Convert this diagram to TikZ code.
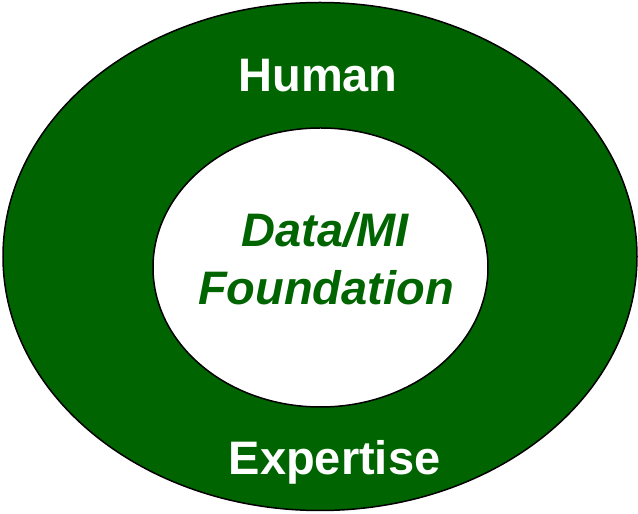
\documentclass[tikz,border=0pt]{standalone}
\usepackage{fontspec}
\setmainfont{Liberation Sans}
\definecolor{ringgreen}{RGB}{0,100,0}
\begin{document}
\begin{tikzpicture}[x=1pt,y=1pt,
  ring/.style={draw=black,line width=1.5pt},
  outerlbl/.style={text=white,font=\fontsize{47}{56}\selectfont\bfseries,anchor=base,inner sep=0pt},
  innerlbl/.style={text=ringgreen,font=\fontsize{47}{56}\selectfont\bfseries\itshape,anchor=base,inner sep=0pt}]
\useasboundingbox (0,0) rectangle (638,514);
\fill[ringgreen] (320,257.5) ellipse [x radius=317, y radius=254];
\draw[ring] (320,257.5) ellipse [x radius=317, y radius=254];
\fill[white] (320.5,246.5) ellipse [x radius=167.5, y radius=139.5];
\draw[ring] (320.5,246.5) ellipse [x radius=167.5, y radius=139.5];
\node[outerlbl] (human) at (318,422) {Human};
\node[outerlbl] (expertise) at (334.5,39) {Expertise};
\node[innerlbl] (data) at (325,267) {Data/MI};
\node[innerlbl] (foundation) at (326,209) {Foundation};
\end{tikzpicture}
\end{document}
